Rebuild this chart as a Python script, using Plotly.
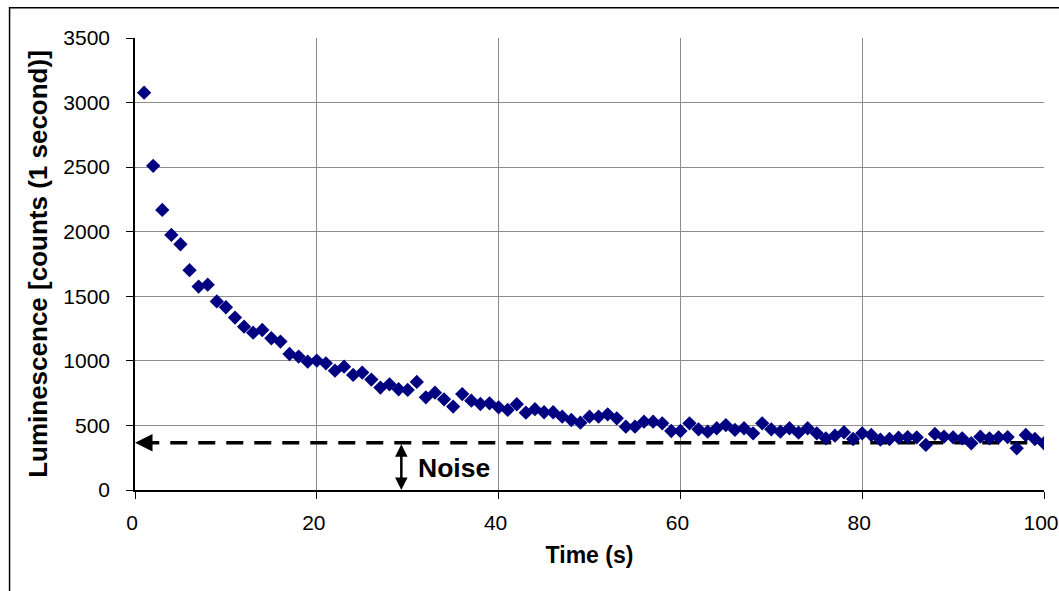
import plotly.graph_objects as go

time_s = list(range(1, 101))
luminescence = [
    3077, 2510, 2169, 1975, 1903, 1702, 1575, 1590, 1460, 1415,
    1335, 1265, 1218, 1239, 1175, 1149, 1053, 1033, 994, 1002,
    981, 924, 955, 891, 909, 855, 793, 818, 780, 775,
    837, 718, 754, 702, 646, 743, 692, 666, 671, 640,
    620, 664, 599, 626, 602, 602, 568, 542, 521, 568,
    568, 586, 555, 490, 490, 529, 529, 516, 457, 457,
    516, 470, 452, 478, 503, 465, 478, 439, 516, 470,
    452, 478, 444, 478, 439, 400, 421, 447, 395, 439,
    426, 390, 395, 405, 410, 408, 349, 434, 413, 408,
    400, 362, 413, 400, 408, 410, 323, 426, 395, 362,
]
noise_level = 365
noise_x = 29.3
x_ticks = [0, 20, 40, 60, 80, 100]
y_ticks = [0, 500, 1000, 1500, 2000, 2500, 3000, 3500]

FONT = "Liberation Sans, Arial, sans-serif"

fig = go.Figure()

# dashed noise line
fig.add_trace(go.Scatter(
    x=[0.8, 100], y=[noise_level, noise_level], mode="lines",
    line=dict(color="black", width=3.5, dash="17px,11px"),
    hoverinfo="skip", showlegend=False,
))

fig.add_trace(go.Scatter(
    x=time_s, y=luminescence, mode="markers",
    marker=dict(symbol="diamond", size=11, color="#000080",
                line=dict(width=0)),
    showlegend=False,
))

# left arrowhead of noise line
fig.add_annotation(
    x=0, y=noise_level, ax=1.6, ay=noise_level, xref="x", yref="y",
    axref="x", ayref="y", showarrow=True, arrowhead=2, arrowsize=1,
    arrowwidth=3.5, arrowcolor="black", text="",
)
# double arrow for noise
fig.add_annotation(
    x=noise_x, y=0, ax=noise_x, ay=noise_level, xref="x", yref="y",
    axref="x", ayref="y", showarrow=True, arrowhead=2, startarrowhead=2,
    arrowside="end+start", arrowsize=1, startarrowsize=1,
    arrowwidth=2.5, arrowcolor="black", text="",
)
fig.add_annotation(
    x=noise_x + 1.6, y=noise_level / 2 - 10, xref="x", yref="y",
    text="<b>Noise</b>", showarrow=False, xanchor="left", yanchor="middle",
    font=dict(family=FONT, size=26.5, color="black"),
)

# outer chart border
fig.add_shape(
    type="rect", xref="paper", yref="paper",
    x0=-0.138, x1=1.05, y0=-0.3, y1=1.067,
    line=dict(color="black", width=1.5), fillcolor="rgba(0,0,0,0)",
    layer="below",
)

fig.update_layout(
    width=1075, height=600,
    margin=dict(l=135, r=31, t=38, b=110),
    paper_bgcolor="white", plot_bgcolor="white",
    font=dict(family=FONT, color="black", size=21),
    xaxis=dict(
        range=[0, 100], tickvals=x_ticks, ticktext=[str(v) for v in x_ticks],
        showgrid=True, gridcolor="#8c8c8c", gridwidth=1,
        showline=True, linecolor="black", linewidth=1.5,
        ticks="outside", ticklen=7, tickcolor="black", tickwidth=1,
        zeroline=False,
        title=dict(text="<b>Time (s)</b>", font=dict(size=23), standoff=14),
        tickfont=dict(size=21),
        ticklabelstandoff=6,
        ticklabelshift=-3,
    ),
    yaxis=dict(
        range=[0, 3500], tickvals=y_ticks, ticktext=[str(v) for v in y_ticks],
        showgrid=True, gridcolor="#8c8c8c", gridwidth=1,
        showline=True, linecolor="black", linewidth=1.5,
        ticks="outside", ticklen=7, tickcolor="black", tickwidth=1,
        zeroline=False,
        title=dict(text="<b>Luminescence [counts (1 second)]</b>",
                   font=dict(size=26), standoff=8),
        tickfont=dict(size=21),
        ticklabelstandoff=12,
    ),
    # right edge gridline (x = 100)
    yaxis2=dict(
        overlaying="y", side="right", range=[0, 3500],
        showline=True, linecolor="#8c8c8c", linewidth=1,
        showticklabels=False, ticks="", showgrid=False, zeroline=False,
    ),
)

fig.write_html(
    "out.html",
    config={"displayModeBar": False},
    post_script="document.body.style.margin='0';document.body.style.overflow='hidden';",
)
